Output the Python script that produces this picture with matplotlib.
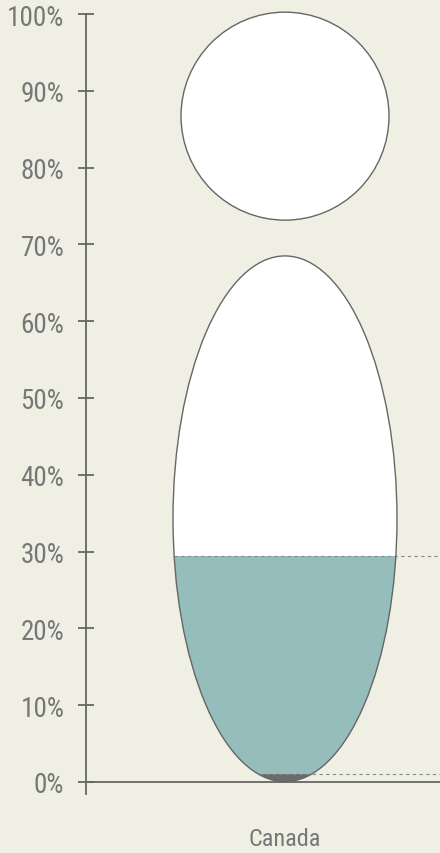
import numpy as np
import matplotlib
matplotlib.use("Agg")
import matplotlib.pyplot as plt
from matplotlib.patches import Ellipse, Circle, Rectangle

# share of the population, in percent
country = ["Canada"]
share_main = [29.4]
share_small = [1.0]
y_ticks = [0, 10, 20, 30, 40, 50, 60, 70, 80, 90, 100]
y_tick_labels = ["0%", "10%", "20%", "30%", "40%", "50%", "60%", "70%", "80%", "90%", "100%"]

bg = "#efefe4"
teal = "#95bdbb"
dark = "#6b6b6b"
edge = "#666666"
text_c = "#777777"

plt.rcParams["font.family"] = ["Liberation Sans Narrow", "Roboto Condensed", "DejaVu Sans"]

fig = plt.figure(figsize=(4.40, 8.54), dpi=100, facecolor=bg)
W, H = 440, 854
px = 7.68  # pixels per percent
ax = fig.add_axes([86 / W, (854 - 795) / H, (440 - 86) / W, (795 - 15) / H])
ax.set_facecolor(bg)
ax.set_ylim(-12 / px, 100)
ax.set_xlim(0, (440 - 86) / px)

cx = (285 - 86) / px
# body
body_top, body_bot = 68.5, 0.05
by = (body_top + body_bot) / 2
bh = body_top - body_bot
bw = 224 / px
# head
head_y = 86.7
head_r = 104 / px

ax.add_patch(Circle((cx, head_y), head_r, facecolor="white", edgecolor=edge, lw=1.0,
                    zorder=2, clip_on=False))
ax.add_patch(Ellipse((cx, by), bw, bh, facecolor="white", edgecolor="none", zorder=2))

for val, col in [(share_main[0], teal), (share_small[0], dark)]:
    e = Ellipse((cx, by), bw, bh, facecolor=col, edgecolor="none", zorder=3)
    ax.add_patch(e)
    clip = Rectangle((0, -10), 100, val + 10, transform=ax.transData)
    e.set_clip_path(clip)

ax.add_patch(Ellipse((cx, by), bw, bh, facecolor="none", edgecolor=edge, lw=1.0, zorder=5))

# dashed level lines
for val in [share_main[0], share_small[0]]:
    half = (bw / 2) * np.sqrt(max(0.0, 1 - ((val - by) / (bh / 2)) ** 2))
    ax.plot([cx - half, ax.get_xlim()[1]], [val, val], ls=(0, (3, 3)), color="#888888",
            lw=0.8, zorder=4, clip_on=False)

ax.axhline(0, color=edge, lw=1.3, zorder=1)

for s in ["top", "right", "bottom"]:
    ax.spines[s].set_visible(False)
ax.spines["left"].set_color(edge)
ax.spines["left"].set_linewidth(1.3)

ax.set_yticks(y_ticks)
ax.set_yticklabels(y_tick_labels)
ax.tick_params(axis="y", direction="inout", length=11, width=1.3, color=edge,
               labelsize=19.5, labelcolor=text_c, pad=10)
ax.set_xticks([])

fig.text(285 / W, 1 - 840 / H, country[0], ha="center", va="center",
         fontsize=17.5, color=text_c)

fig.savefig("out.png", dpi=100, facecolor=bg)
